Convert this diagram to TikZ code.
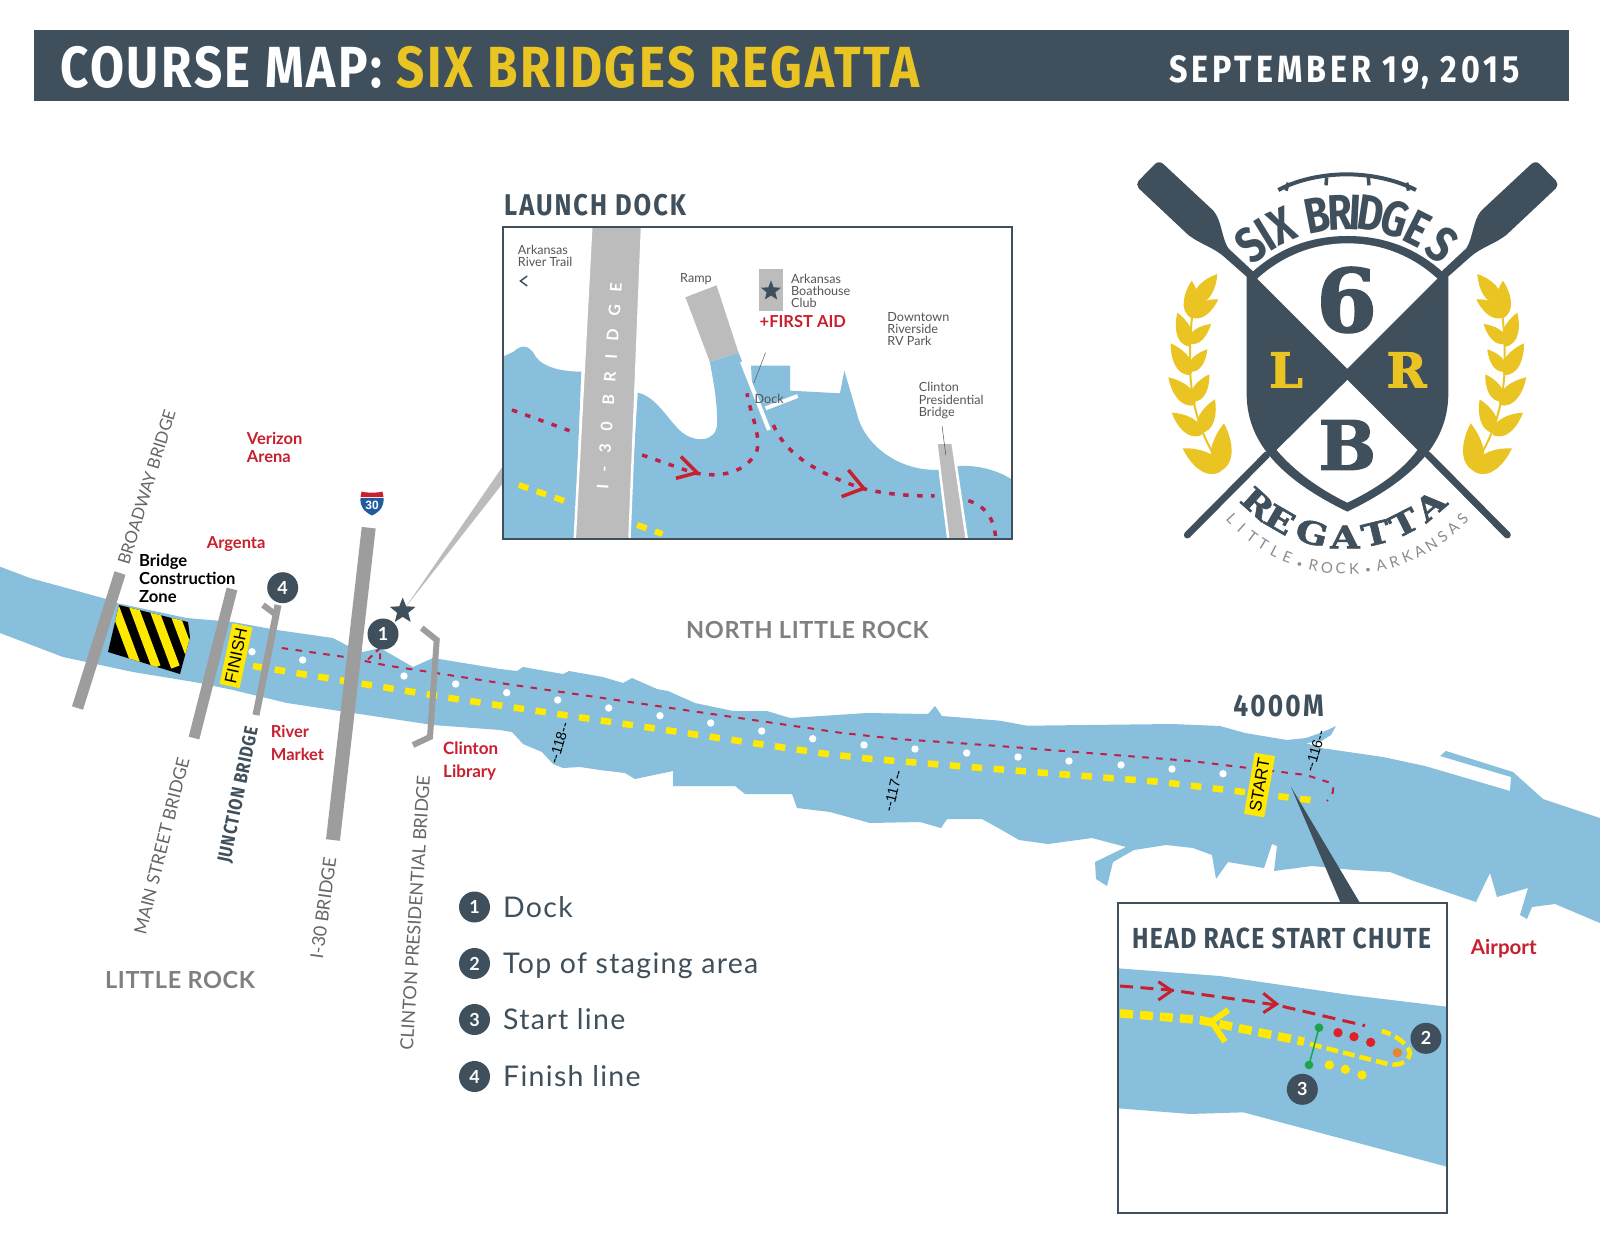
\documentclass[tikz,border=0pt]{standalone}
\usepackage{fontspec}
\usetikzlibrary{shapes.geometric}
\setmainfont{Lato}
\newfontfamily\cond[FakeStretch=0.85]{Fira Sans}
\newfontfamily\condx[FakeStretch=0.8]{Fira Sans}
\newfontfamily\slabh[FakeBold=2]{DejaVu Serif}
\newfontfamily\slabw[FakeStretch=1.22,FakeBold=2]{DejaVu Serif}
\newfontfamily\arial{Liberation Sans}
\definecolor{dark}{HTML}{3F505C}
\definecolor{gold}{HTML}{EAC423}
\definecolor{water}{HTML}{88BFDC}
\definecolor{brg}{HTML}{9D9D9D}
\definecolor{lbrg}{HTML}{BCBCBC}
\definecolor{rd}{HTML}{C8202F}
\definecolor{crim}{HTML}{BE2046}
\definecolor{yl}{HTML}{FFE900}
\definecolor{gtxt}{HTML}{555555}
\definecolor{grn}{HTML}{1BA54A}
\definecolor{ishield}{HTML}{1F5B9E}
\definecolor{dotred}{HTML}{E02027}
\definecolor{dotor}{HTML}{E8842C}
\newcommand{\bul}{\fontsize{10}{10}\selectfont •}
\tikzset{
 lbl/.style={anchor=west,inner sep=0,align=left},
 redlbl/.style={lbl,text=rd,font=\fontsize{16.5}{18}\bfseries\selectfont},
 numc/.style={circle,fill=dark,text=white,inner sep=0,minimum size=31pt,font=\fontsize{18}{20}\bfseries\selectfont},
 brlbl/.style={inner sep=0,text=gtxt!90,font=\fontsize{18}{20}\selectfont},
 inlbl/.style={lbl,text=gtxt,font=\fontsize{12.6}{12.2}\selectfont},
 mile/.style={inner sep=0,font=\arial\fontsize{14.5}{15}\selectfont},
 sign/.style={fill=yl,inner sep=0,minimum width=62pt,minimum height=20.5pt,font=\arial\fontsize{17}{18}\selectfont},
 place/.style={inner sep=0,text=gray,font=\fontsize{23.5}{25}\bfseries\addfontfeature{LetterSpace=2.6}\selectfont},
 logoS/.style={anchor=base,inner sep=0,text=dark,font=\condx\bfseries\fontsize{50}{52}\selectfont},
 logoR/.style={anchor=base,inner sep=0,text=dark,font=\slabw\bfseries\fontsize{31}{33}\selectfont},
 logoL/.style={anchor=base,inner sep=0,text=gray!90,font=\fontsize{15}{17}\selectfont},
}
\newcommand{\leaf}[4]{%
 \pgfmathsetmacro\ldx{#3-#1}\pgfmathsetmacro\ldy{#4-#2}%
 \fill[gold] (#1,#2) .. controls ({#1+.2*\ldx-.36*\ldy},{#2+.2*\ldy+.36*\ldx}) and ({#1+.7*\ldx-.2*\ldy},{#2+.7*\ldy+.2*\ldx}) .. (#3,#4)
  .. controls ({#1+.7*\ldx+.2*\ldy},{#2+.7*\ldy-.2*\ldx}) and ({#1+.2*\ldx+.36*\ldy},{#2+.2*\ldy-.36*\ldx}) .. (#1,#2);}
\newcommand{\wreath}{%
 \draw[gold,line width=2pt] (345,950) .. controls (290,860) and (268,760) .. (270,650) .. controls (270,570) and (275,500) .. (300,440);
 \leaf{362}{995}{248}{925}\leaf{358}{995}{372}{850}
 \leaf{305}{885}{215}{818}\leaf{300}{880}{345}{778}
 \leaf{285}{795}{205}{712}\leaf{278}{785}{328}{703}
 \leaf{272}{705}{212}{610}\leaf{268}{695}{322}{628}
 \leaf{268}{620}{232}{518}\leaf{266}{610}{333}{552}
 \leaf{275}{535}{275}{422}\leaf{270}{530}{355}{478}
 \leaf{285}{490}{352}{402}
}
\begin{document}
\begin{tikzpicture}[x=1pt,y=-1pt]
\useasboundingbox (0,0) rectangle (1600,1245);
\fill[white] (0,0) rectangle (1600,1245);
% header
\fill[dark] (34,30) rectangle (1569,101);
\node[anchor=west,inner sep=0,text=white,font=\cond\bfseries\fontsize{58}{60}\addfontfeature{LetterSpace=4.5}\selectfont] (title) at (60,67) {COURSE MAP: \textcolor{gold}{SIX BRIDGES REGATTA}};
\node[anchor=east,inner sep=0,text=white,font=\cond\bfseries\fontsize{38}{40}\addfontfeature{LetterSpace=10.2}\selectfont] (date) at (1520,72) {SEPTEMBER 19, 2015};
% river
\fill[water] (0,566.7)--(30,578)--(110,600)--(116.7,603)--(186.7,618)--(233,622)--(277,630)--(333,638)--(350,647)--(363,652)--(380,648)--(413,667)--(433,658)--(500,669)--(517,671)--(523,667)--(563,674)--(569,671)--(603,677)--(623,683)--(632,678)--(657,689)--(668,691)--(695,703)--(733,711)--(767,711)--(790,718)--(867,713)--(928,714)--(935,706)--(942,716)--(1000,720.7)--(1027,725.7)--(1172,724)--(1220,726)--(1245,733)--(1287,740)--(1306,738)--(1323,732)--(1336,726)--(1331,735)--(1320,741.7)--(1306,743)--(1321,748)--(1383,757)--(1425,766)--(1510,791)--(1511,777)--(1440,756)--(1446,751)--(1513,772)--(1543,799)--(1600,818)
--(1600,923)--(1555,904)--(1532,907)--(1527,919)--(1520,915)--(1528,888)--(1497,897)--(1490,873)--(1476,902)--(1411,880)--(1390,872)--(1354,870)--(1312,866)--(1274,871)--(1277,846)--(1272,844)--(1264,868)--(1228,862)--(1216,879)--(1212,855)--(1193,848)--(1166,845)--(1134,850)--(1113,862)--(1107,886)--(1096,879)--(1095,862)--(1126,847)--(1092,838)--(1048,844)--(1019,840)--(1000,829)--(982,819)--(947,819)--(941,828)--(920,822)--(870,823)--(830,812)--(797,808)--(792,794)--(745,794)--(735,786)--(673,786)--(673,771)--(635,779)--(625,773)--(600,770)--(580,767)--(563,768)--(553,764)--(542,752)--(523,744)--(512,732)--(500,730)--(433,725)--(353,713)--(287,703)--(233,690)--(200,683)--(133,672)--(63,657)--(0,633)--cycle;
% course lines
\draw[yl,line width=6.5pt,dash pattern=on 10.5pt off 11.5pt] (253,666)--(450,698)--(517,708)--(827,754)--(872,759)--(983,768)--(1161,782)--(1316,800.7);
\draw[crim,line width=2pt,dash pattern=on 6.5pt off 7.5pt] (281.7,648)--(345,657)--(388,665.7)--(423,671)--(500,683)--(840,732.7)--(897,739)--(953,742.7)--(1008,746.7)--(1191,761)--(1306,775)--(1331,783) .. controls (1336,790) and (1332,795) .. (1327,801);
\draw[crim,line width=2pt,dash pattern=on 6pt off 5pt] (368,659.5)--(380,648)--(380,665);
\foreach \p in {(252,651.7),(302.7,660),(404,676),(455.7,684),(506.7,692.7),(557.7,700),(608.7,708),(660,715.7),(710.7,723),(761.7,731),(812.7,738.7),(864,745),(915,749),(966.7,753),(1018,757),(1069,761),(1121,765),(1172,769),(1223,773.7)}
 \fill[white] \p circle (3.7);
% construction zone
\begin{scope}
 \clip (119,605)--(188,622)--(190,637)--(180,674)--(108,652)--cycle;
 \fill[black] (100,600) rectangle (200,680);
 \foreach \s in {0,1,2,3}
  \draw[yl,line width=9pt] ({112+19.2*\s},600)--({137+19.2*\s},667);
\end{scope}
% bridges
\draw[brg,line width=11.5pt] (120,573)--(77.5,708);
\draw[brg,line width=11pt] (232,589)--(194,738);
\draw[brg,line width=7pt] (278,605)--(256,715);
\draw[brg,line width=6pt] (263,605)--(275,614);
\draw[brg,line width=14pt] (368.7,527.7)--(333,840);
\draw[brg,line width=6pt] (421.7,628)--(436.7,640)--(430,737)--(413,745);
% signs
\node[sign,rotate=78] (finish) at (236,655.7) {FINISH};
\node[sign,rotate=80] (start) at (1259.5,785) {START};
% mile markers
\node[mile,rotate=74] (m118) at (559,743) {-{}-118-{}-};
\node[mile,rotate=76] (m117) at (893,790.7) {-{}-117-{}-};
\node[mile,rotate=74] (m116) at (1315,751) {-{}-116-{}-};
% wedge and star
\fill[lbrg] (405,608)--(503,466)--(503,483)--cycle;
\node[star,star points=5,star point ratio=2.3,fill=dark,inner sep=0,minimum size=27pt] (mstar) at (402.7,611) {};
\node[numc] (n1) at (383,634) {1};
\node[numc] (n4) at (282.7,587.7) {4};
% labels
\node[redlbl] (verizon) at (246.7,447) {Verizon\\Arena};
\node[redlbl] (argenta) at (206.7,544) {Argenta};
\node[redlbl,font=\fontsize{16.5}{23}\bfseries\selectfont] (rivermkt) at (270.7,742.5) {River\\Market};
\node[redlbl,font=\fontsize{17}{23.5}\bfseries\selectfont] (clintonlib) at (443,761) {Clinton\\Library};
\node[redlbl,font=\fontsize{20.5}{22}\bfseries\selectfont] (airport) at (1470.7,949) {Airport};
\node[lbl,text=black,font=\fontsize{16.6}{18.3}\bfseries\selectfont] (zone) at (139,578.5) {Bridge\\Construction\\Zone};
\node[brlbl,rotate=73,font=\fontsize{16.8}{18}\selectfont] (b1) at (146.7,487) {BROADWAY BRIDGE};
\node[brlbl,rotate=76,font=\fontsize{17.6}{19}\selectfont] (b2) at (161.7,846) {MAIN STREET BRIDGE};
\node[inner sep=0,text=dark,rotate=78.3,font=\cond\bfseries\fontsize{19}{21}\addfontfeature{LetterSpace=4}\selectfont] (b3) at (239,795) {JUNCTION BRIDGE};
\node[brlbl,rotate=82.4] (b4) at (323.3,908) {I-30 BRIDGE};
\node[brlbl,rotate=86.4] (b5) at (415,912.7) {CLINTON PRESIDENTIAL BRIDGE};
\node[place] (nlr) at (807.5,630) {NORTH LITTLE ROCK};
\node[place] (lr) at (180,980) {LITTLE ROCK};
\node[inner sep=0,text=dark,font=\cond\bfseries\fontsize{31}{33}\addfontfeature{LetterSpace=7}\selectfont] (dist) at (1278.5,706) {4000M};
% I-30 shield
\fill[rd] (361.5,491.5) .. controls (365,493) and (379,493) .. (382.5,491.5) -- (383.5,497) -- (360.5,497) -- cycle;
\fill[ishield] (360.5,498) -- (383.5,498) .. controls (384,506) and (381,511) .. (372,515.5) .. controls (363,511) and (360,506) .. (360.5,498) -- cycle;
\node[inner sep=0,text=white,font=\arial\bfseries\fontsize{12}{13}\selectfont] (i30) at (372,505) {30};
% legend
\foreach \i/\yy/\t in {1/907/Dock,2/963.5/Top of staging area,3/1019.5/Start line,4/1076.5/Finish line}{
 \node[numc] (lg\i) at (474.5,\yy) {\i};
 \node[anchor=base west,inner sep=0,text=dark,font=\fontsize{28.5}{30}\addfontfeature{LetterSpace=4.6}\selectfont] (lt\i) at (503,\yy+10) {\t};
}
% pointer to start chute
\fill[dark] (1291,787)--(1340.6,903)--(1360,903)--cycle;
% ---------- launch dock inset
\node[anchor=west,inner sep=0,text=dark,font=\cond\bfseries\fontsize{30}{32}\addfontfeature{LetterSpace=6.6}\selectfont] (ldt) at (504,205.5) {LAUNCH DOCK};
\begin{scope}[shift={(490,180)},x=0.3381pt,y=-0.3333pt]
 \fill[white] (38,142) rectangle (1545,1078);
 \begin{scope}
  \clip (38,142) rectangle (1545,1078);
  \fill[water] (38,530)--(70,515) .. controls (90,495) and (115,490) .. (135,530) .. controls (160,565) and (220,575) .. (270,575)--(250,1078)--(38,1078)--cycle;
  \fill[water] (437,638) .. controls (490,650) and (520,710) .. (560,750) .. controls (600,790) and (670,790) .. (672,730) .. controls (672,660) and (660,600) .. (650,545)--(735,518)--(775,615)--(772,557)--(888,557)--(888,632)--(1035,640)--(1048,572)--(1085,700) .. controls (1105,790) and (1200,870) .. (1320,870)--(1390,858) .. controls (1450,855) and (1510,875) .. (1545,900)--(1545,1078)--(410,1078)--cycle;
  \draw[white,line width=4pt] (745,545)--(825,750);
  \draw[white,line width=4pt] (815,685)--(910,648);
  \fill[lbrg] (578,352)--(670,316)--(735,518)--(650,545)--cycle;
  \tikzset{idash/.style={crim,line width=3.5pt,dash pattern=on 5.5pt off 8.5pt}}
  \draw[idash] (65,690)--(235,752);
  \draw[idash] (450,825)--(600,878) .. controls (680,895) and (760,880) .. (790,810) .. controls (800,760) and (770,700) .. (760,640);
  \draw[idash] (838,735) .. controls (870,810) and (940,870) .. (1100,925) .. controls (1180,945) and (1250,948) .. (1315,948);
  \draw[idash] (1415,962) .. controls (1470,980) and (1490,1020) .. (1495,1068);
  \draw[rd,line width=3.5pt] (565,830)--(612,878)--(550,895);
  \draw[rd,line width=3.5pt] (1060,870)--(1105,925)--(1040,950);
  \draw[yl,line width=6pt,dash pattern=on 10pt off 9pt] (85,915)--(240,970);
  \draw[yl,line width=6pt,dash pattern=on 10pt off 9pt] (435,1035)--(510,1062);
  \fill[lbrg,draw=white,line width=2.5pt] (300,130)--(450,130)--(412,1090)--(250,1090)--cycle;
  \fill[lbrg,draw=white,line width=2.5pt] (1320,788)--(1368,788)--(1412,1090)--(1357,1090)--cycle;
  \fill[lbrg] (795,268) rectangle (868,393);
  \draw[gtxt,line width=0.5pt] (815,518)--(780,610);
  \draw[gtxt,line width=0.5pt] (1337,738)--(1348,825);
  \draw[dark,line width=1.5pt] (110,288)--(90,303)--(110,318);
 \end{scope}
 \draw[dark,line width=2pt] (38,142) rectangle (1545,1078);
 \node[star,star points=5,star point ratio=2.3,fill=dark,inner sep=0,minimum size=21pt] (dstar) at (831,333) {};
 \node[inner sep=0,text=white,rotate=86.2,font=\bfseries\fontsize{16}{18}\addfontfeature{LetterSpace=80}\selectfont] (i30b) at (353,618) {I-30 BRIDGE};
 \node[inlbl] (art) at (82,228) {Arkansas\\River Trail};
 \node[inlbl] (ramp) at (562,298) {Ramp};
 \node[inlbl] (abc) at (890,333) {Arkansas\\Boathouse\\Club};
 \node[lbl,text=rd,font=\bfseries\fontsize{16.5}{18}\selectfont] (fa) at (797,425) {+FIRST AID};
 \node[inlbl] (rv) at (1175,448) {Downtown\\Riverside\\RV Park};
 \node[inlbl] (cpb) at (1268,662) {Clinton\\Presidential\\Bridge};
 \node[inlbl] (dock) at (782,657) {Dock};
\end{scope}
% ---------- start chute inset
\begin{scope}[shift={(1100,880)},x=0.3333pt,y=-0.3333pt]
 \fill[white] (55,70) rectangle (1040,998);
 \fill[water] (55,265)--(360,288)--(750,345)--(1040,380)--(1040,860)--(430,697)--(270,702)--(55,685)--cycle;
 \draw[rd,line width=3pt,dash pattern=on 13pt off 7.5pt] (60,318)--(210,330)--(530,375)--(795,437);
 \draw[rd,line width=3pt] (175,305)--(215,332)--(175,360);
 \draw[rd,line width=3pt] (490,340)--(530,372)--(490,398);
 \draw[yl,line width=8.5pt,dash pattern=on 13pt off 7pt] (60,400)--(300,420)--(612,485);
 \draw[yl,line width=4.5pt,dash pattern=on 12pt off 5pt] (630,492)--(855,550) .. controls (890,560) and (925,550) .. (930,520) .. controls (925,490) and (880,462) .. (845,453);
 \draw[yl,line width=6pt] (385,390)--(335,425)--(375,485);
 \draw[grn,line width=1.5pt] (657,443)--(627,555);
 \foreach \p in {(657,443),(627,555)} \fill[grn] \p circle (13);
 \foreach \p in {(714,458),(762,470),(812,487)} \fill[dotred] \p circle (14);
 \foreach \p in {(688,555),(736,568),(786,585)} \fill[yl] \p circle (14);
 \fill[dotor] (892,518) circle (14);
 \draw[dark,line width=2pt] (55,70) rectangle (1040,998);
 \node[inner sep=0,text=dark,font=\cond\bfseries\fontsize{29}{31}\addfontfeature{LetterSpace=4.8}\selectfont] (hrt) at (545,175) {HEAD RACE START CHUTE};
 \node[numc] (n2) at (978,475) {2};
 \node[numc] (n3) at (607,628) {3};
\end{scope}
% ---------- logo
\begin{scope}[shift={(1100,140)},x=0.3333pt,y=-0.3333pt]
 \wreath
 \begin{scope}[shift={(1484,0)},xscale=-1]\wreath\end{scope}
 % oars
 \foreach \m in {0,1}{
  \begin{scope}[shift={(\m*1484,0)},xscale={1-2*\m}]
   \fill[dark] (165,72) .. controls (172,65) and (182,65) .. (190,72) -- (340,212) .. controls (365,240) and (365,295) .. (385,325) -- (460,395) -- (442,412) -- (372,350) .. controls (340,322) and (300,312) .. (265,285) -- (116,145) .. controls (110,138) and (110,128) .. (116,122) -- cycle;
   \draw[dark,line width=7pt,line cap=round] (500,945)--(262,1185);
  \end{scope}
 }
 % shield
 \fill[dark] (455,398) .. controls (540,320) and (640,288) .. (742,288) .. controls (845,288) and (945,320) .. (1030,398) -- (1045,410) -- (1045,760) .. controls (1045,880) and (980,1000) .. (742,1115) .. controls (505,1000) and (440,880) .. (440,760) -- (440,410) -- cycle;
 \fill[white] (472,416) .. controls (550,345) and (645,310) .. (742,310) .. controls (840,310) and (935,345) .. (1012,416) -- (742,686) -- cycle;
 \fill[white] (742,720) -- (952,930) .. controls (900,1000) and (820,1050) .. (742,1088) .. controls (665,1050) and (590,1000) .. (530,930) -- cycle;
 \node[inner sep=0,text=dark,font=\slabh\bfseries\fontsize{87}{89}\selectfont] (six) at (740,480) {6};
 \node[inner sep=0,text=dark,font=\slabh\bfseries\fontsize{68}{70}\selectfont] (bee) at (742,915) {B};
 \node[inner sep=0,text=gold,font=\slabh\bfseries\fontsize{48}{50}\selectfont] (ell) at (558,690) {L};
 \node[inner sep=0,text=gold,font=\slabh\bfseries\fontsize{48}{50}\selectfont] (arr) at (920,690) {R};
 % bridge arc
 \draw[dark,line width=4pt] (535,150) .. controls (600,115) and (680,103) .. (740,103) .. controls (800,103) and (880,115) .. (948,150);
 \foreach \a/\b/\c/\d in {565/128/558/152,680/112/678/136,805/112/807/136,920/128/926/152}
  \draw[dark,line width=3.5pt] (\a,\b)--(\c,\d);
 % curved text
 \foreach \c/\a in {S/-38,I/-31.5,X/-24.5,B/-11,R/-2.5,I/3,D/8.6,G/17.6,E/26.8,S/37.4}
  \node[logoS,rotate=-\a] at ({742+418*sin(\a)},{686-418*cos(\a)}) {\c};
 \foreach \c/\a in {R/-42,E/-30,G/-14.6,A/0,T/13.7,T/27,A/40.8}
  \node[logoR,rotate=\a] at ({735+425*sin(\a)},{800+425*cos(\a)}) {\c};
 \foreach \c [count=\i] in {L,I,T,T,L,E,\bul,R,O,C,K,\bul,A,R,K,A,N,S,A,S}{
  \pgfmathsetmacro\aa{-47+(\i-1)*94/19}
  \node[logoL,rotate=\aa] at ({742+490*sin(\aa)},{813+490*cos(\aa)}) {\c};
 }
\end{scope}
\end{tikzpicture}
\end{document}
